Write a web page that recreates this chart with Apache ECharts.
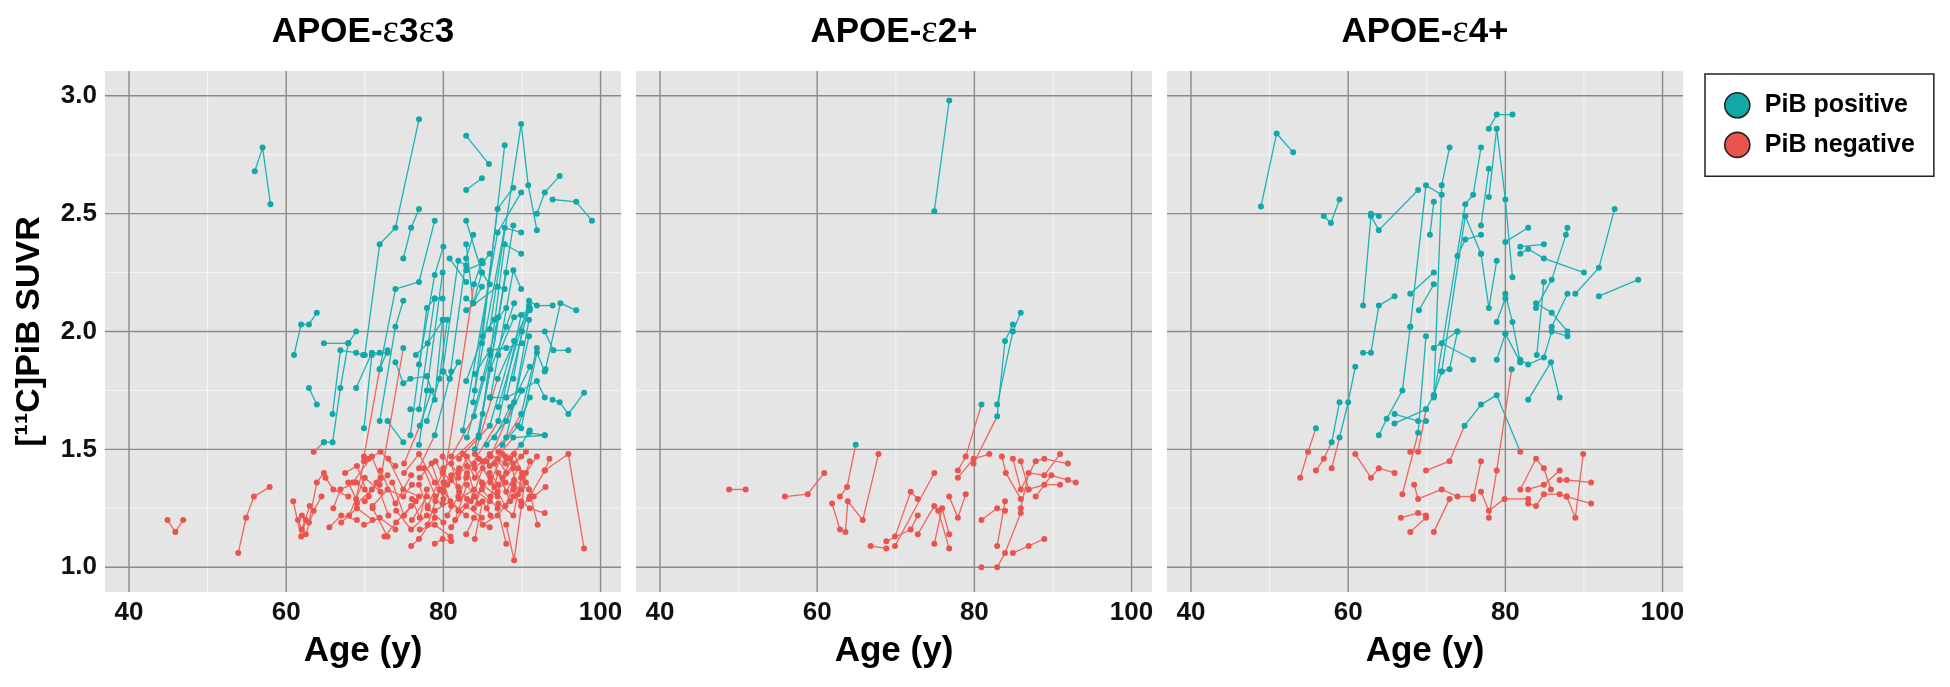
<!DOCTYPE html>
<html>
<head>
<meta charset="utf-8">
<title>PiB SUVR by age and APOE group</title>
<script src="https://cdn.jsdelivr.net/npm/echarts@6.0.0/dist/echarts.min.js"></script>
<style>
  html, body { margin: 0; padding: 0; background: #fff; }
  #chart { width: 1950px; height: 687px; }
</style>
</head>
<body>
<div id="chart"></div>
<script>
var panelTitles = ['APOE-{e|ε}3{e|ε}3', 'APOE-{e|ε}2+', 'APOE-{e|ε}4+'];
var xTicks = [40, 60, 80, 100];
var xMinor = [50, 70, 90];
var yTicks = [1.0, 1.5, 2.0, 2.5, 3.0];
var yMinor = [1.25, 1.75, 2.25, 2.75];
var pibCutoff = 1.5;

// one entry per subject, visits as [age, suvr]
var e33Subjects = [
  [[56,2.68],[57,2.78],[58,2.54]],
  [[61.0,1.90],[61.9,2.03],[62.9,2.03],[63.9,2.08]],
  [[62.9,1.76],[63.9,1.69]],
  [[64.8,1.53],[65.9,1.53],[66.9,1.76],[67.9,1.95]],
  [[64.8,1.95],[67.9,1.95],[68.9,2.00]],
  [[65.9,1.65],[66.9,1.92],[68.9,1.91],[69.8,1.90]],
  [[68.9,1.76],[70.9,1.91],[71.9,1.91]],
  [[69.9,1.59],[70.9,1.90],[72.9,1.91]],
  [[70.0,1.90],[71.9,2.37],[73.9,2.44],[76.9,2.90]],
  [[74.9,2.31],[75.9,2.44],[76.9,2.52]],
  [[71.9,1.84],[73.9,2.18],[76.9,2.21],[78.9,2.47]],
  [[76.9,1.86],[78.9,2.24],[80.0,2.36]],
  [[71.9,1.62],[73.9,2.02],[74.9,2.13]],
  [[73.9,1.87],[74.9,1.78],[75.8,1.80],[77.9,1.81]],
  [[75.8,1.67],[76.9,1.67],[78.9,2.14],[79.9,2.14]],
  [[75.8,1.56],[77.9,2.10],[78.9,2.14]],
  [[76.9,1.52],[77.9,1.75],[79.9,2.25]],
  [[77.9,1.81],[78.9,1.71],[79.9,2.05]],
  [[72.9,1.62],[74.9,1.53]],
  [[80.8,1.80],[82.9,2.31],[83.8,2.41]],
  [[80.8,2.31],[82.9,2.21]],
  [[79.9,1.83],[81.9,2.30],[82.9,2.28]],
  [[82.9,2.83],[85.8,2.71]],
  [[82.9,2.60],[84.9,2.65]],
  [[85.9,2.01],[89.9,2.88],[90.8,2.62],[91.9,2.43]],
  [[91.9,2.50],[92.9,2.59],[94.8,2.66]],
  [[93.9,2.56],[96.9,2.55],[98.9,2.47]],
  [[84.9,1.95],[87.8,2.79]],
  [[82.9,2.47],[84.9,2.25],[85.9,2.20]],
  [[83.8,1.70],[86.9,2.52],[88.9,2.61]],
  [[82.5,1.58],[86.9,2.42],[89.9,2.59]],
  [[84.0,1.75],[87.8,2.44],[89.9,2.42]],
  [[84.5,1.55],[88.9,2.45]],
  [[85.0,1.65],[87.8,2.37],[89.9,2.33]],
  [[82.9,2.37],[83.8,2.12],[84.9,2.19]],
  [[82.9,2.26],[85.0,2.29],[85.9,2.33]],
  [[82.9,2.14],[83.8,2.12],[84.9,2.25]],
  [[82.9,2.09],[86.9,2.19],[87.8,2.18]],
  [[86.0,1.72],[88.9,2.26],[89.9,2.18]],
  [[87.0,1.68],[90.9,2.13],[91.9,2.11],[93.9,2.11]],
  [[88.0,1.72],[90.9,2.11]],
  [[93.0,1.84],[94.9,2.12],[96.9,2.09]],
  [[92.9,2.00],[94.0,1.92],[95.9,1.92]],
  [[93.9,1.71],[94.8,1.70],[95.9,1.65],[97.9,1.74]],
  [[90.9,1.57],[92.9,1.56]],
  [[80.0,1.83],[80.8,1.80],[81.9,1.87]],
  [[84.0,1.82],[85.9,1.92],[88.0,1.93],[90.0,1.95]],
  [[82.9,1.79],[85.0,1.98],[86.5,2.05]],
  [[89.9,1.59],[91.9,1.91],[92.9,1.83]],
  [[89.9,1.75],[91.9,1.79],[92.9,1.72]],
  [[85.9,1.72],[88.0,1.72],[89.9,1.75]],
  [[83.0,1.55],[85.0,1.80],[87.0,2.06],[88.0,2.10]],
  [[84.0,1.50],[86.0,1.84],[88.0,2.02],[89.0,2.12]],
  [[85.5,1.52],[88.0,1.62],[90.0,1.75]],
  [[86.5,1.55],[88.5,1.68],[91.0,1.85]],
  [[87.5,1.52],[89.5,1.60],[91.0,1.72]],
  [[77.9,1.62],[79.5,1.80],[80.5,2.05]],
  [[76.5,1.90],[78.0,1.95],[80.0,2.05]],
  [[88.9,1.80],[90.0,2.00],[91.0,2.10]],
  [[87.0,1.90],[89.0,2.06],[91.0,2.09]],
  [[63.5,1.49],[64.8,1.53]],
  [[69.9,1.47],[71.9,1.84],[72.9,1.92]],
  [[71.9,1.35],[74.9,1.93]],
  [[80.0,1.42],[84.5,1.56],[88.0,2.25]],
  [[82.0,1.46],[85.9,1.60],[89.0,1.96]],
  [[83.0,1.40],[87.0,1.62],[89.9,2.07]],
  [[84.0,1.48],[86.9,1.80],[90.9,2.10]],
  [[85.0,1.45],[88.0,1.55],[90.9,1.98]],
  [[86.0,1.47],[89.0,1.70],[90.9,2.05]],
  [[87.0,1.49],[89.9,1.65],[91.9,1.93]],
  [[81.0,1.47],[83.9,1.64],[86.0,1.90]],
  [[76.9,1.42],[78.9,1.56],[81.0,1.83]],
  [[79.9,1.33],[83.9,2.20],[84.9,2.30]],
  [[85.9,1.43],[88.9,1.55],[92.9,1.56]],
  [[88.0,1.46],[89.9,1.52],[91.0,1.58]],
  [[75.0,1.44],[77.0,1.60],[78.5,1.75]],
  [[44.9,1.20],[45.9,1.15],[46.9,1.20]],
  [[53.9,1.06],[54.9,1.21],[55.9,1.30],[57.9,1.34]],
  [[60.9,1.28],[61.9,1.13],[62.5,1.20]],
  [[61.5,1.20],[62.0,1.16],[63.0,1.26]],
  [[62.0,1.22],[62.9,1.19],[63.9,1.36],[64.8,1.40]],
  [[62.5,1.14],[63.5,1.24],[64.5,1.30]],
  [[65.0,1.38],[66.0,1.33],[67.9,1.30]],
  [[65.5,1.17],[67.0,1.22],[69.0,1.20]],
  [[66.0,1.25],[66.9,1.33],[68.9,1.36],[70.0,1.33]],
  [[67.0,1.19],[69.0,1.25],[71.0,1.20]],
  [[67.9,1.36],[68.9,1.29],[69.9,1.45]],
  [[68.0,1.22],[70.0,1.38],[72.0,1.32]],
  [[69.0,1.27],[70.9,1.33],[72.9,1.39]],
  [[69.9,1.18],[71.9,1.21],[73.9,1.16]],
  [[70.5,1.46],[72.0,1.49],[73.9,1.43]],
  [[71.0,1.26],[72.9,1.33],[74.9,1.30],[76.0,1.35]],
  [[72.0,1.41],[73.9,1.27],[75.9,1.39]],
  [[72.5,1.13],[74.0,1.19],[75.9,1.26]],
  [[73.0,1.46],[74.9,1.33],[76.9,1.30]],
  [[74.0,1.24],[75.9,1.16],[77.9,1.22]],
  [[75.0,1.40],[76.9,1.48],[78.9,1.36]],
  [[75.9,1.09],[76.9,1.12],[78.9,1.21]],
  [[76.0,1.20],[77.9,1.30],[79.9,1.27]],
  [[76.9,1.35],[78.0,1.25],[80.0,1.19]],
  [[77.0,1.16],[78.9,1.18],[80.9,1.13]],
  [[77.5,1.42],[79.0,1.30],[81.0,1.37]],
  [[78.0,1.26],[79.9,1.40],[81.9,1.34]],
  [[78.9,1.10],[79.9,1.12],[81.0,1.11]],
  [[78.9,1.24],[80.9,1.28],[82.9,1.22]],
  [[79.9,1.47],[81.9,1.40],[83.9,1.44]],
  [[80.0,1.32],[81.9,1.24],[83.9,1.30]],
  [[81.0,1.17],[82.9,1.26],[84.9,1.21]],
  [[81.9,1.38],[83.0,1.47],[84.9,1.36]],
  [[82.0,1.29],[83.9,1.33],[85.9,1.28]],
  [[82.9,1.14],[83.9,1.21],[85.9,1.17]],
  [[83.0,1.43],[84.0,1.30],[86.0,1.38]],
  [[83.9,1.25],[85.0,1.35],[86.9,1.30]],
  [[84.0,1.42],[85.9,1.48],[87.9,1.44]],
  [[84.9,1.33],[86.9,1.25],[88.0,1.10]],
  [[85.0,1.18],[86.9,1.22],[88.9,1.30]],
  [[85.9,1.40],[87.0,1.35],[88.9,1.42]],
  [[86.0,1.30],[87.9,1.36],[89.9,1.33]],
  [[86.9,1.46],[88.0,1.40],[89.9,1.47]],
  [[87.0,1.27],[88.9,1.22],[89.9,1.38]],
  [[87.9,1.47],[88.9,1.44],[90.5,1.49]],
  [[88.0,1.18],[89.0,1.03],[90.5,1.40],[91.9,1.47]],
  [[88.9,1.33],[89.9,1.26],[90.9,1.29]],
  [[89.9,1.28],[91.0,1.25],[92.9,1.23]],
  [[89.0,1.37],[90.9,1.33],[92.0,1.18]],
  [[92.9,1.41],[95.9,1.48],[97.9,1.08]],
  [[91.0,1.30],[92.9,1.41],[93.5,1.46]],
  [[71.0,1.25],[72.9,1.13]],
  [[68.5,1.36],[70.9,1.47],[72.0,1.38]],
  [[76.0,1.29],[77.0,1.21],[77.9,1.33]],
  [[79.0,1.28],[80.0,1.36],[81.0,1.26]],
  [[81.0,1.44],[82.0,1.32],[83.0,1.29]],
  [[84.0,1.12],[85.0,1.28],[86.0,1.22]],
  [[80.5,1.22],[81.9,1.30],[82.9,1.38]],
  [[86.9,1.32],[87.9,1.26],[88.9,1.35]],
  [[77.0,1.38],[78.5,1.44],[80.0,1.29]],
  [[78.0,1.18],[79.5,1.33],[81.0,1.39]],
  [[79.0,1.45],[80.5,1.35],[82.0,1.42]],
  [[81.5,1.20],[83.0,1.35],[84.5,1.27]],
  [[82.5,1.48],[84.0,1.38],[85.5,1.45]],
  [[83.5,1.28],[85.0,1.42],[86.5,1.34]],
  [[84.5,1.46],[86.0,1.36],[87.5,1.48]],
  [[85.5,1.25],[87.0,1.40],[88.5,1.28]],
  [[86.5,1.44],[88.0,1.32],[89.5,1.42]],
  [[87.5,1.38],[89.0,1.48],[90.5,1.36]],
  [[88.5,1.46],[89.5,1.31],[91.0,1.45]],
  [[73.5,1.36],[75.0,1.22],[76.5,1.28]],
  [[70.0,1.28],[71.5,1.36],[73.0,1.22]],
  [[67.5,1.40],[69.0,1.43],[70.5,1.30]],
  [[90.0,1.40],[91.5,1.30],[93.0,1.34]]
];

var e2Subjects = [
  [[74.9,2.51],[76.8,2.98]],
  [[82.9,1.69],[84.9,2.00],[85.9,2.08]],
  [[79.9,1.44],[82.9,1.64],[83.9,1.96],[84.9,2.03]],
  [[77.9,1.41],[78.9,1.47],[80.9,1.69]],
  [[62.9,1.30],[63.8,1.34],[64.9,1.52]],
  [[48.8,1.33],[50.9,1.33]],
  [[55.9,1.30],[58.8,1.31],[60.9,1.40]],
  [[61.9,1.27],[62.9,1.16]],
  [[63.6,1.15],[63.9,1.28],[65.8,1.20],[67.8,1.48]],
  [[66.8,1.09],[68.8,1.08]],
  [[68.8,1.11],[71.9,1.16],[72.8,1.22]],
  [[69.9,1.13],[71.9,1.32],[72.8,1.29]],
  [[69.9,1.09],[74.9,1.40]],
  [[72.8,1.14],[74.9,1.26]],
  [[74.9,1.10],[75.9,1.25],[76.8,1.14]],
  [[75.4,1.24],[76.8,1.08]],
  [[76.8,1.30],[77.9,1.21],[78.9,1.31]],
  [[77.9,1.38],[79.9,1.46],[81.9,1.48]],
  [[80.9,1.20],[82.9,1.25],[83.9,1.24]],
  [[80.9,1.00]],
  [[82.9,1.00],[83.9,1.06],[85.9,1.23]],
  [[82.9,1.09],[83.9,1.28]],
  [[84.9,1.06],[86.9,1.09],[88.9,1.12]],
  [[83.5,1.47],[84.0,1.40],[85.9,1.29]],
  [[84.9,1.46],[85.9,1.33],[87.8,1.45],[88.9,1.46],[91.9,1.44]],
  [[85.9,1.25],[86.9,1.40],[88.9,1.39],[90.9,1.48]],
  [[86.9,1.33],[88.9,1.35],[90.9,1.35]],
  [[87.8,1.30],[89.8,1.39],[91.9,1.37],[92.9,1.36]],
  [[85.9,1.45],[86.9,1.33]]
];

var e4Subjects = [
  [[48.9,2.53],[50.9,2.84],[53.0,2.76]],
  [[56.9,2.49],[57.8,2.46],[58.9,2.56]],
  [[61.9,2.11],[62.9,2.49],[63.9,2.43],[68.9,2.60]],
  [[62.9,2.50],[63.9,2.49]],
  [[61.9,1.91],[62.9,1.91],[63.9,2.11],[65.9,2.15]],
  [[67.9,2.02],[69.9,2.62],[71.9,2.58]],
  [[67.9,2.16],[70.9,2.25]],
  [[69.0,2.09],[70.9,2.20]],
  [[70.9,1.73],[71.9,2.62],[72.9,2.78]],
  [[70.4,2.41],[70.9,2.55]],
  [[70.9,1.72],[74.9,2.54],[75.9,2.58],[76.9,2.78]],
  [[71.9,1.83],[74.9,2.49],[76.9,2.33]],
  [[77.9,2.86],[78.9,2.92],[80.9,2.92]],
  [[77.9,2.57],[78.9,2.86],[80.0,2.56],[80.9,2.23]],
  [[76.9,2.45],[77.9,2.69]],
  [[73.9,2.32],[74.9,2.39],[76.9,2.41]],
  [[80.0,2.38],[82.9,2.44]],
  [[81.9,2.36],[84.9,2.37]],
  [[81.9,2.33],[82.9,2.35],[84.9,2.31],[90.0,2.25]],
  [[83.9,2.10],[85.9,2.22],[87.7,2.41],[87.9,2.44]],
  [[88.9,2.16],[91.9,2.27],[93.9,2.52]],
  [[91.9,2.15],[96.9,2.22]],
  [[83.9,2.12],[85.9,2.08],[87.9,2.00]],
  [[85.9,2.02],[87.9,2.16]],
  [[84.0,1.90],[84.9,2.21]],
  [[80.0,1.99],[81.9,1.87]],
  [[82.9,1.71],[85.8,1.87],[86.9,1.72]],
  [[81.9,1.88],[82.9,1.86],[84.9,1.89],[85.9,2.00],[87.9,1.98]],
  [[76.9,2.33],[77.9,2.10],[78.9,2.30]],
  [[80.0,2.16],[80.9,2.04],[81.9,1.87]],
  [[78.9,2.04],[80.0,2.14]],
  [[78.9,1.88],[80.0,1.99]],
  [[71.9,1.95],[75.9,1.88]],
  [[70.9,1.93],[73.9,2.00]],
  [[63.9,1.56],[64.9,1.63],[66.9,1.75],[67.9,2.02]],
  [[70.9,1.73],[71.9,1.83],[72.9,1.84],[73.9,2.00]],
  [[65.9,1.65],[68.9,1.62],[69.9,1.62]],
  [[65.9,1.61],[69.9,1.67],[70.9,1.73]],
  [[53.9,1.38],[54.9,1.49],[55.9,1.59]],
  [[55.9,1.41],[56.9,1.46],[57.9,1.53],[58.9,1.70]],
  [[57.9,1.42],[58.9,1.55],[60.0,1.70],[60.9,1.85]],
  [[66.9,1.31],[68.9,1.57],[69.9,1.98]],
  [[67.9,1.49],[68.9,1.49],[69.9,1.67]],
  [[69.9,1.41],[72.9,1.45],[74.8,1.60],[76.9,1.69],[78.9,1.73],[81.9,1.49]],
  [[77.9,1.21],[78.9,1.41],[80.8,1.84]],
  [[60.9,1.48],[62.9,1.38],[63.9,1.42],[65.9,1.40]],
  [[66.7,1.21],[68.9,1.23],[69.9,1.22]],
  [[67.9,1.15],[69.9,1.21]],
  [[70.9,1.15],[72.9,1.29]],
  [[68.4,1.35],[68.9,1.29],[71.9,1.33],[73.9,1.30],[75.9,1.30]],
  [[75.9,1.29],[76.9,1.45]],
  [[76.9,1.32],[77.9,1.24],[79.9,1.29],[82.9,1.29]],
  [[81.9,1.33],[83.9,1.46],[84.9,1.42],[85.8,1.33]],
  [[82.9,1.33],[84.9,1.35],[86.9,1.41]],
  [[86.9,1.37],[87.8,1.37],[90.9,1.36]],
  [[82.9,1.27],[83.9,1.26],[84.9,1.31],[86.9,1.31],[87.8,1.30],[90.9,1.27]],
  [[87.8,1.30],[88.9,1.21],[89.9,1.48]]
];

var panels = [e33Subjects, e2Subjects, e4Subjects];
var gridLeft = [105, 636, 1167];
var gridTop = 71, gridW = 516, gridH = 521;
var teal = '#1BB3B5', red = '#F0645D';
var tealPt = '#12A7A9', redPt = '#E9554E';
var fontFam = '"Liberation Sans", Arial, sans-serif';

function segmentsOf(subjects) {
  var segs = [];
  subjects.forEach(function (s) {
    for (var i = 0; i + 1 < s.length; i++) {
      segs.push([s[i][0], s[i][1], s[i + 1][0], s[i + 1][1]]);
    }
  });
  return segs;
}

function visitsOf(subjects, positive) {
  var pts = [];
  subjects.forEach(function (s) {
    s.forEach(function (v) {
      if ((v[1] >= pibCutoff) === positive) pts.push(v);
    });
  });
  return pts;
}

// guide lines: [value, 0 = vertical / 1 = horizontal, 1 = major]
var guideData = [];
xMinor.forEach(function (v) { guideData.push([v, 0, 0]); });
yMinor.forEach(function (v) { guideData.push([v, 1, 0]); });
xTicks.forEach(function (v) { guideData.push([v, 0, 1]); });
yTicks.forEach(function (v) { guideData.push([v, 1, 1]); });

function renderGuide(params, api) {
  var cs = params.coordSys;
  var v = api.value(0), major = api.value(2) === 1;
  var shape;
  if (api.value(1) === 0) {
    var x = api.coord([v, yTicks[0]])[0];
    shape = { x1: x, y1: cs.y, x2: x, y2: cs.y + cs.height };
  } else {
    var y = api.coord([xTicks[0], v])[1];
    shape = { x1: cs.x, y1: y, x2: cs.x + cs.width, y2: y };
  }
  return {
    type: 'line', silent: true, shape: shape,
    style: { stroke: major ? '#8a8a8a' : '#f4f4f4', lineWidth: major ? 1.4 : 1.1 }
  };
}

function renderSegment(params, api) {
  var a = api.coord([api.value(0), api.value(1)]);
  var b = api.coord([api.value(2), api.value(3)]);
  return {
    type: 'line',
    shape: { x1: a[0], y1: a[1], x2: b[0], y2: b[1] },
    style: { stroke: api.value(1) >= pibCutoff ? teal : red, lineWidth: 1.3 }
  };
}

var grids = [], xAxes = [], yAxes = [], series = [], titles = [];
panels.forEach(function (subjects, i) {
  grids.push({
    left: gridLeft[i], top: gridTop, width: gridW, height: gridH,
    show: true, backgroundColor: '#E5E5E5', borderWidth: 0
  });
  xAxes.push({
    gridIndex: i, type: 'value', min: 36.95, max: 102.6,
    splitLine: { show: false }, axisLine: { show: false }, axisTick: { show: false },
    axisLabel: {
      customValues: xTicks, margin: 8, color: '#111',
      fontSize: 26, fontWeight: 'bold', fontFamily: fontFam
    },
    name: 'Age (y)', nameLocation: 'middle', nameGap: 42,
    nameTextStyle: { fontSize: 35, fontWeight: 'bold', color: '#000', fontFamily: fontFam }
  });
  yAxes.push({
    gridIndex: i, type: 'value', min: 0.895, max: 3.105,
    splitLine: { show: false }, axisLine: { show: false }, axisTick: { show: false },
    axisLabel: {
      show: i === 0, customValues: yTicks, margin: 8, color: '#111',
      fontSize: 26, fontWeight: 'bold', fontFamily: fontFam,
      formatter: function (v) { return v.toFixed(1); }
    },
    name: i === 0 ? '[¹¹C]PiB SUVR' : '', nameLocation: 'middle', nameGap: 58, nameRotate: 90,
    nameTextStyle: { fontSize: 34, fontWeight: 'bold', color: '#000', fontFamily: fontFam }
  });
  series.push({
    type: 'custom', xAxisIndex: i, yAxisIndex: i, z: 1, silent: true,
    renderItem: renderGuide, data: guideData
  });
  series.push({
    type: 'custom', xAxisIndex: i, yAxisIndex: i, z: 2,
    renderItem: renderSegment, encode: { x: [0, 2], y: [1, 3] },
    data: segmentsOf(subjects)
  });
  series.push({
    type: 'scatter', name: 'PiB positive', xAxisIndex: i, yAxisIndex: i, z: 3,
    symbolSize: 6, itemStyle: { color: tealPt, opacity: 1 },
    data: visitsOf(subjects, true)
  });
  series.push({
    type: 'scatter', name: 'PiB negative', xAxisIndex: i, yAxisIndex: i, z: 3,
    symbolSize: 6, itemStyle: { color: redPt, opacity: 1 },
    data: visitsOf(subjects, false)
  });
  titles.push({
    type: 'text', x: gridLeft[i] + gridW / 2, y: 32,
    style: {
      text: panelTitles[i], align: 'center', verticalAlign: 'middle',
      fontSize: 35, fontWeight: 'bold', fontFamily: fontFam, fill: '#000',
      rich: { e: { fontSize: 39, fontWeight: 'normal', fontFamily: '"Liberation Serif", serif', fill: '#000' } }
    }
  });
});

var chart = echarts.init(document.getElementById('chart'));
chart.setOption({
  animation: false,
  backgroundColor: '#fff',
  grid: grids,
  xAxis: xAxes,
  yAxis: yAxes,
  graphic: titles,
  legend: {
    data: ['PiB positive', 'PiB negative'],
    orient: 'vertical', left: 1705, top: 74,
    padding: [18, 19, 18, 19], itemGap: 13,
    itemWidth: 25, itemHeight: 25, icon: 'circle',
    borderColor: '#222', borderWidth: 1.5, backgroundColor: '#fff',
    itemStyle: { borderColor: '#222', borderWidth: 1.6 },
    textStyle: { fontSize: 25, fontWeight: 'bold', color: '#000', fontFamily: fontFam, padding: [0, 0, 0, 10] },
    selectedMode: false
  },
  series: series
});
</script>
</body>
</html>
